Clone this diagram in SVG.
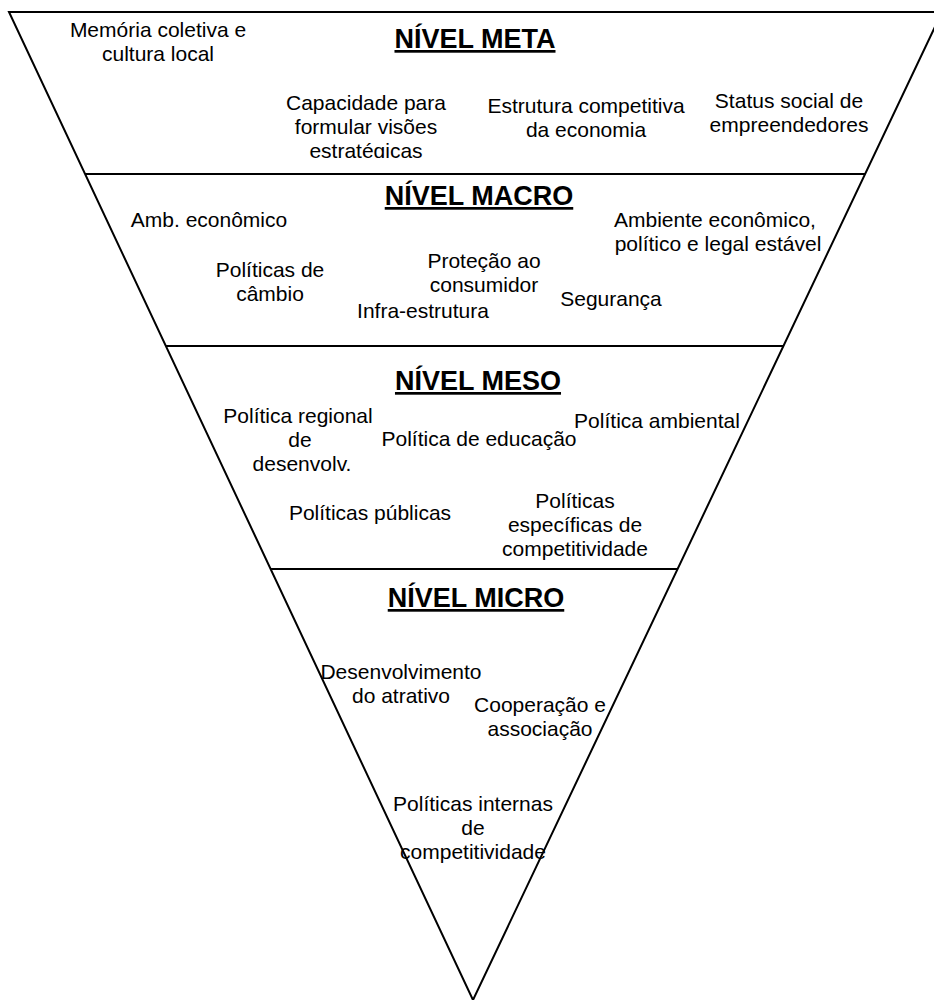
<svg xmlns="http://www.w3.org/2000/svg" width="934" height="1000" viewBox="0 0 934 1000">
  <defs>
    <style>
      text { font-family: "Liberation Sans", Arial, sans-serif; font-size: 21px; fill: #000; text-anchor: middle; }
      .title { font-weight: bold; font-size: 27px; text-decoration: underline; }
      .edge { stroke: #000; stroke-width: 2; fill: none; }
    </style>
    <!-- the third line of the "Capacidade" box is cut off by its text frame -->
    <clipPath id="capacidade-clip">
      <rect x="0" y="0" width="934" height="158"/>
    </clipPath>
  </defs>

  <rect width="934" height="1000" fill="#fff"/>

  <!-- inverted pyramid and level dividers -->
  <g id="connectors">
    <polygon class="edge" points="9,12 942,12 473,1000"/>
    <line class="edge" x1="85" y1="174" x2="865" y2="174"/>
    <line class="edge" x1="166" y1="346" x2="783" y2="346"/>
    <line class="edge" x1="271" y1="569" x2="678" y2="569"/>
  </g>

  <!-- NÍVEL META -->
  <g id="meta-title"><text class="title" x="475" y="48">NÍVEL META</text></g>
  <g id="meta-memoria">
    <text x="158" y="37">Memória coletiva e</text>
    <text x="158" y="61">cultura local</text>
  </g>
  <g id="meta-capacidade" clip-path="url(#capacidade-clip)">
    <text x="366" y="110">Capacidade para</text>
    <text x="366" y="134">formular visões</text>
    <text x="366" y="158">estratégicas</text>
  </g>
  <g id="meta-estrutura">
    <text x="586" y="113">Estrutura competitiva</text>
    <text x="586" y="137">da economia</text>
  </g>
  <g id="meta-status">
    <text x="789" y="108">Status social de</text>
    <text x="789" y="132">empreendedores</text>
  </g>

  <!-- NÍVEL MACRO -->
  <g id="macro-title"><text class="title" x="479" y="205">NÍVEL MACRO</text></g>
  <g id="macro-amb"><text x="209" y="227">Amb. econômico</text></g>
  <g id="macro-ambiente">
    <text x="715" y="227">Ambiente econômico,</text>
    <text x="718" y="251">político e legal estável</text>
  </g>
  <g id="macro-cambio">
    <text x="270" y="277">Políticas de</text>
    <text x="270" y="301">câmbio</text>
  </g>
  <g id="macro-protecao">
    <text x="484" y="268">Proteção ao</text>
    <text x="484" y="292">consumidor</text>
  </g>
  <g id="macro-seguranca"><text x="611" y="306">Segurança</text></g>
  <g id="macro-infra"><text x="423" y="318">Infra-estrutura</text></g>

  <!-- NÍVEL MESO -->
  <g id="meso-title"><text class="title" x="478" y="390">NÍVEL MESO</text></g>
  <g id="meso-regional">
    <text x="298" y="423">Política regional</text>
    <text x="300" y="447">de</text>
    <text x="302" y="471">desenvolv.</text>
  </g>
  <g id="meso-educacao"><text x="479" y="446">Política de educação</text></g>
  <g id="meso-ambiental"><text x="657" y="428">Política ambiental</text></g>
  <g id="meso-publicas"><text x="370" y="520">Políticas públicas</text></g>
  <g id="meso-especificas">
    <text x="575" y="508">Políticas</text>
    <text x="575" y="532">específicas de</text>
    <text x="575" y="556">competitividade</text>
  </g>

  <!-- NÍVEL MICRO -->
  <g id="micro-title"><text class="title" x="476" y="607">NÍVEL MICRO</text></g>
  <g id="micro-atrativo">
    <text x="401" y="679">Desenvolvimento</text>
    <text x="401" y="703">do atrativo</text>
  </g>
  <g id="micro-cooperacao">
    <text x="540" y="712">Cooperação e</text>
    <text x="540" y="736">associação</text>
  </g>
  <g id="micro-internas">
    <text x="473" y="811">Políticas internas</text>
    <text x="473" y="835">de</text>
    <text x="473" y="859">competitividade</text>
  </g>
</svg>
